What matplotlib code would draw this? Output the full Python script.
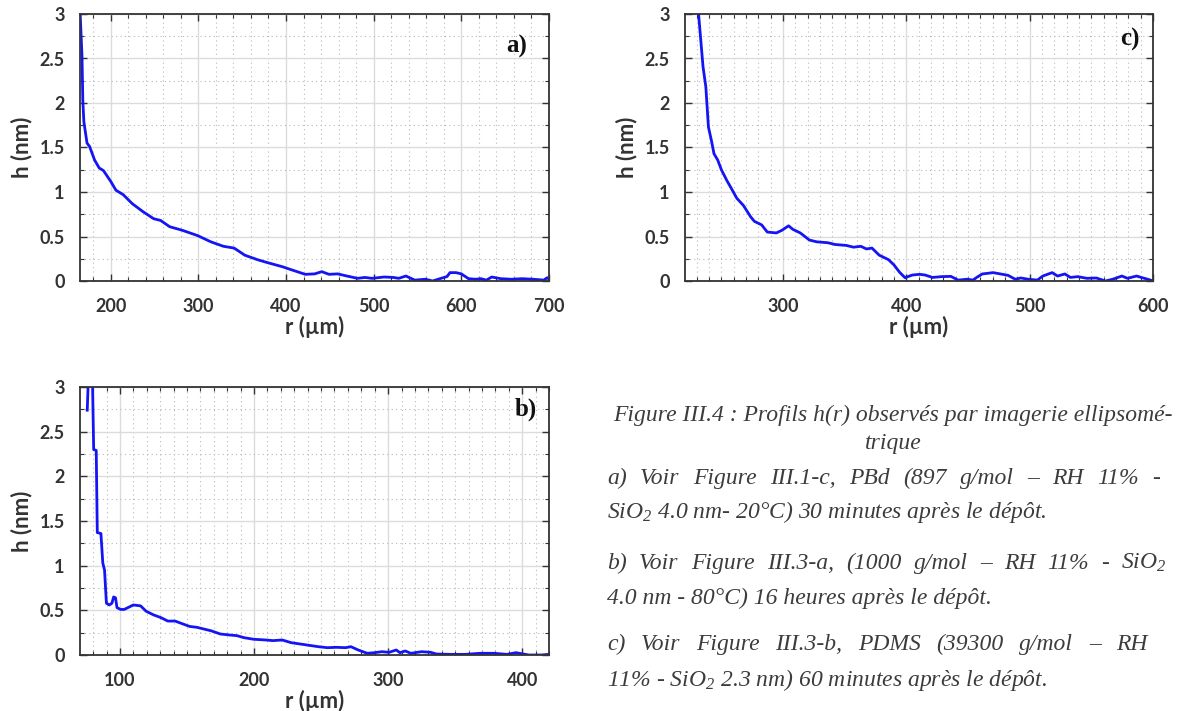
import matplotlib
matplotlib.use("Agg")
import matplotlib.pyplot as plt
from matplotlib.ticker import MultipleLocator
import numpy as np

# Panel a) profile, r in um, h in nm
r_a = [165.2, 167.3, 168.2, 169.4, 173, 176, 181.6, 186.9, 191.8, 200, 206, 214.3, 224.5,
       236.7, 249, 257, 267.3, 281.6, 299.2, 314.3, 328.6, 340.8, 353, 367.3, 377.6, 396,
       408, 422, 432.7, 440.8, 449, 459, 469.4, 481.6, 490, 498, 512, 522.4, 528.6, 536.7,
       546.9, 559, 567.3, 575.5, 583.7, 587, 594, 600, 608.2, 616.3, 622.4, 628.6, 634.7,
       644.9, 657, 669.4, 681.6, 694, 698, 700]
h_a = [3.0, 2.52, 2.03, 1.79, 1.55, 1.51, 1.36, 1.27, 1.24, 1.12, 1.02, 0.97, 0.87,
       0.78, 0.70, 0.68, 0.61, 0.57, 0.51, 0.44, 0.39, 0.37, 0.29, 0.24, 0.21, 0.16,
       0.12, 0.075, 0.08, 0.105, 0.075, 0.08, 0.056, 0.03, 0.04, 0.03, 0.045, 0.04, 0.03, 0.056,
       0.01, 0.02, 0.0, 0.026, 0.05, 0.094, 0.094, 0.08, 0.026, 0.02, 0.026, 0.01, 0.045,
       0.026, 0.02, 0.026, 0.02, 0.01, 0.037, 0.02]

# Panel b)
r_b = [75.6, 76.2, 76.5, 78.8, 79.6, 80.4, 82.3, 83.1, 85.8, 87.2, 88.5, 89.9, 92.1, 94,
       95.3, 96.7, 97.8, 100.5, 103.2, 105.9, 110, 115.4, 119.5, 124.9, 130.3, 135.7,
       141.1, 146.5, 151.9, 157.3, 162.8, 168.2, 174.9, 181.7, 187.1, 192.5, 199.8, 208.8,
       214.2, 221, 227.7, 234.5, 241.2, 248, 254.7, 261.5, 268.3, 272.3, 277.7, 284.5,
       289.9, 295.3, 300.7, 306.1, 308.8, 312.8, 316.9, 325, 331.8, 335.9, 346.7, 357.5,
       368.3, 379.2, 388.6, 395.4, 400.8, 404.9, 414.3, 419.7]
h_b = [2.74, 3.0, 3.4, 3.4, 3.0, 2.3, 2.29, 1.37, 1.36, 1.03, 0.95, 0.58, 0.56, 0.58,
       0.65, 0.64, 0.53, 0.51, 0.51, 0.53, 0.56, 0.55, 0.49, 0.45, 0.42, 0.38,
       0.38, 0.35, 0.32, 0.31, 0.29, 0.27, 0.235, 0.224, 0.217, 0.194, 0.176, 0.168,
       0.161, 0.168, 0.138, 0.123, 0.108, 0.093, 0.082, 0.086, 0.082, 0.093, 0.056, 0.019,
       0.026, 0.037, 0.03, 0.056, 0.026, 0.045, 0.019, 0.037, 0.03, 0.011, 0.007, 0.007,
       0.019, 0.019, 0.007, 0.026, 0.011, 0.0, 0.0, 0.007]

# Panel c)
r_c = [231.5, 235.1, 237.4, 239.5, 241.9, 244, 247, 250, 254.4, 258.9, 262.5, 267.8,
       273.8, 276.8, 282.7, 287.2, 294.6, 299.1, 304.5, 308, 314, 321.4, 327.4, 336.3,
       342.3, 351.2, 357.2, 363.1, 367.6, 372.1, 378, 385.5, 390, 394.4, 398.9, 404.8,
       410.8, 415.2, 421.2, 428.6, 436.1, 442, 449.5, 454, 457, 461.5, 470.4, 476.4,
       482.4, 488.3, 492.8, 498.8, 506.2, 510.7, 518.2, 522.6, 528.6, 533, 539, 546.5,
       554, 561.4, 567.4, 574.8, 579.3, 586.7, 591.2, 595.7, 600]
h_c = [3.0, 2.41, 2.18, 1.73, 1.58, 1.43, 1.36, 1.25, 1.13, 1.02, 0.93, 0.85,
       0.72, 0.67, 0.63, 0.55, 0.54, 0.57, 0.62, 0.58, 0.54, 0.46, 0.44, 0.43,
       0.41, 0.40, 0.38, 0.39, 0.36, 0.37, 0.29, 0.24, 0.18, 0.10, 0.037, 0.067,
       0.075, 0.067, 0.04, 0.049, 0.052, 0.01, 0.02, 0.01, 0.04, 0.079, 0.094, 0.079,
       0.064, 0.02, 0.034, 0.02, 0.01, 0.056, 0.094, 0.056, 0.079, 0.04, 0.049, 0.03,
       0.034, 0.0, 0.02, 0.056, 0.03, 0.056, 0.037, 0.02, 0.0]

caption_title = ["Figure III.4 : Profils h(r) observés par imagerie ellipsomé-", "trique"]
caption_lines = [
    "a) Voir Figure III.1-c, PBd (897 g/mol – RH 11% -",
    "SiO$_2$ 4.0 nm- 20°C) 30 minutes après le dépôt.",
    "b) Voir Figure III.3-a, (1000 g/mol – RH 11% - SiO$_2$",
    "4.0 nm - 80°C) 16 heures après le dépôt.",
    "c) Voir Figure III.3-b, PDMS (39300 g/mol – RH",
    "11% - SiO$_2$ 2.3 nm) 60 minutes après le dépôt.",
]
# baseline (px from top) and right edge for justified lines (None = ragged)
caption_y = [484, 518, 569, 604, 650, 686]
caption_right = [1160, None, 1167, None, 1148, None]

plt.rcParams['mathtext.fontset'] = 'custom'
plt.rcParams['mathtext.rm'] = 'Liberation Serif:italic'
plt.rcParams['mathtext.it'] = 'Liberation Serif:italic'

W, H = 1177, 711
fig = plt.figure(figsize=(W / 100, H / 100), dpi=100)


def px_axes(x0, y0, x1, y1):
    return fig.add_axes([x0 / W, 1 - y1 / H, (x1 - x0) / W, (y1 - y0) / H])


def style_panel(ax, r, h, xlim, xmajor, xminor, tag, tag_xy):
    ax.plot(r, h, color='#1414f5', lw=2.0, solid_joinstyle='round')
    ax.set_xlim(*xlim)
    ax.set_ylim(0, 3)
    ax.xaxis.set_major_locator(MultipleLocator(xmajor))
    ax.xaxis.set_minor_locator(MultipleLocator(xminor))
    ax.yaxis.set_major_locator(MultipleLocator(0.5))
    ax.yaxis.set_minor_locator(MultipleLocator(0.25))
    ax.yaxis.set_major_formatter(plt.FuncFormatter(lambda v, p: f"{v:g}"))
    ax.grid(which='major', color='#dcdcdc', lw=1.0, ls='-')
    ax.grid(which='minor', color='#b8b8b8', lw=0.8, ls=(0, (1, 3)))
    ax.set_axisbelow(True)
    ax.tick_params(which='both', direction='in', top=True, right=True, color='#333333')
    ax.tick_params(which='major', length=5, width=1.0)
    ax.tick_params(which='minor', length=3, width=0.8)
    ax.tick_params(axis='x', pad=12)
    ax.tick_params(axis='y', pad=11)
    for lab in ax.get_xticklabels() + ax.get_yticklabels():
        lab.set_fontfamily('Lato')
        lab.set_fontweight('bold')
        lab.set_fontsize(13)
        lab.set_color('#333333')
    for s in ax.spines.values():
        s.set_color('#333333')
        s.set_linewidth(1.3)
    ax.set_xlabel("r (µm)", fontfamily='Lato', fontweight='bold', fontsize=16,
                  color='#333333', labelpad=1)
    ax.set_ylabel("h (nm)", fontfamily='Lato', fontweight='bold', fontsize=16,
                  color='#333333', labelpad=5)
    ax.text(tag_xy[0], tag_xy[1], tag, transform=ax.transAxes, ha='right', va='baseline',
            fontfamily='Liberation Serif', fontweight='bold', fontsize=18, color='#111111')


ax_a = px_axes(80, 14, 549, 281)
style_panel(ax_a, r_a, h_a, (165, 700), 100, 20, "a)", (0.953, 0.854))

ax_c = px_axes(685, 14, 1153, 281)
style_panel(ax_c, r_c, h_c, (220.5, 600), 100, 10, "c)", (0.972, 0.88))

ax_b = px_axes(80, 387, 549, 655)
style_panel(ax_b, r_b, h_b, (70.2, 420), 100, 10, "b)", (0.974, 0.895))

cap_font = dict(family='Liberation Serif', style='italic', size=17, color='#3c3c3c')
fig.text(893 / W, 1 - 421 / H, caption_title[0], ha='center', va='baseline', **cap_font)
fig.text(893 / W, 1 - 449 / H, caption_title[1], ha='center', va='baseline', **cap_font)

x_left = 607
renderer = fig.canvas.get_renderer()
for line, y, right in zip(caption_lines, caption_y, caption_right):
    if right is None:
        fig.text(x_left / W, 1 - y / H, line, ha='left', va='baseline', **cap_font)
        continue
    # justified line: spread the words between left and right margins
    words = line.split(" ")
    texts = [fig.text(0, 1 - y / H, w, ha='left', va='baseline', **cap_font) for w in words]
    widths = [t.get_window_extent(renderer).width for t in texts]
    gap = (right - x_left - sum(widths)) / (len(words) - 1)
    x = x_left
    for t, w in zip(texts, widths):
        t.set_x(x / W)
        x += w + gap

fig.savefig("out.png", dpi=100)
